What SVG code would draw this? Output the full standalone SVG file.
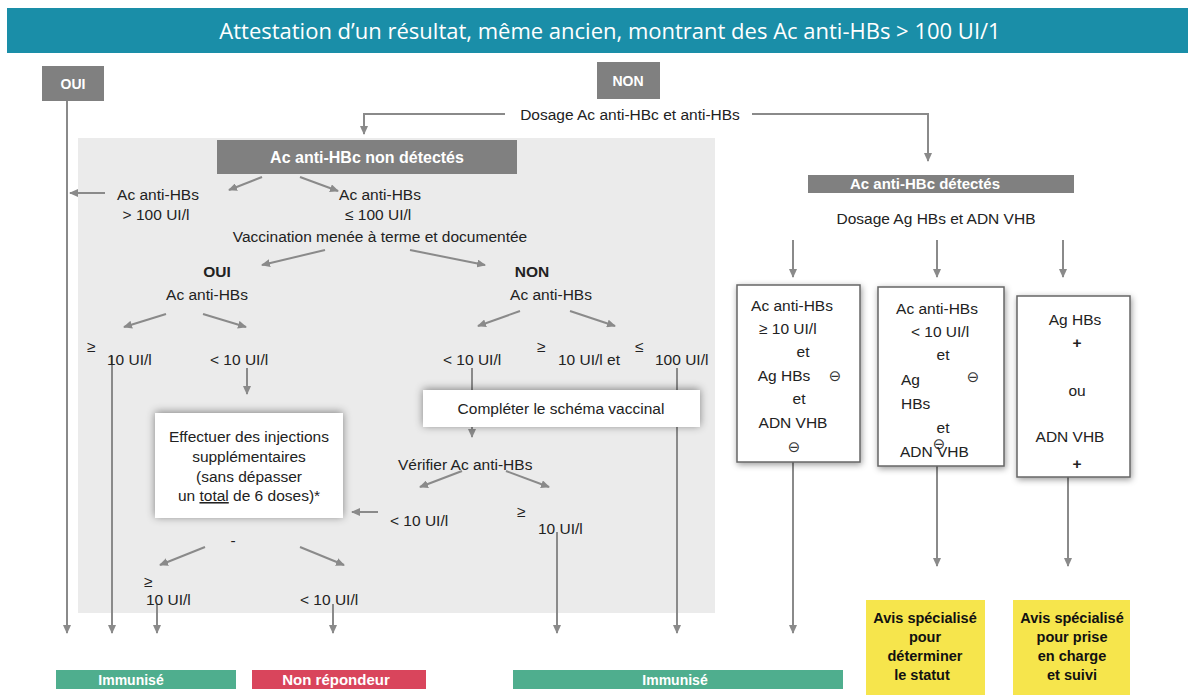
<svg xmlns="http://www.w3.org/2000/svg" width="1194" height="695" viewBox="0 0 1194 695">
<defs>
<marker id="ah" markerWidth="9" markerHeight="8" refX="8" refY="4" orient="auto" markerUnits="userSpaceOnUse">
<path d="M0,0 L9,4 L0,8 z" fill="#8a8a8a"/>
</marker>
<filter id="sh" x="-20%" y="-30%" width="140%" height="160%">
<feDropShadow dx="0" dy="-1" stdDeviation="4" flood-color="#000" flood-opacity="0.45"/>
</filter>
<filter id="sh2" x="-20%" y="-20%" width="140%" height="140%">
<feDropShadow dx="1" dy="2" stdDeviation="3" flood-color="#000" flood-opacity="0.4"/>
</filter>
</defs>
<style>
.t{font-family:"Liberation Sans",Arial,sans-serif;font-size:15.5px;fill:#222}
.c{text-anchor:middle}
.b{font-weight:bold}
.w{fill:#fff}
.s14{font-size:14px}
.s15{font-size:15px}
.s16{font-size:16px}
.yb{font-size:14.5px;fill:#111}
.gb{fill:#808080}
.ln{fill:none;stroke:#8a8a8a;stroke-width:2}
.ar{marker-end:url(#ah)}
.box{fill:#fff}
.rb{fill:#fff;stroke:#666;stroke-width:1.5}
.sym{font-family:"DejaVu Sans",sans-serif;font-size:15px;fill:#333}
</style>
<rect width="1194" height="695" fill="#fff"/>
<g id="header">
<rect x="7" y="8" width="1181" height="45" fill="#1a8ea8"/>
<text x="610" y="39" text-anchor="middle" font-family="'Open Sans','Noto Sans',sans-serif" font-size="22" font-weight="500" fill="#fff">Attestation d’un résultat, même ancien, montrant des Ac anti-HBs &gt; 100 UI/1</text>
</g>
<rect id="panel" x="78" y="138" width="637" height="475" fill="#ebebeb"/>
<g id="connectors">
<path class="ln ar" d="M67,101 V633"/>
<path class="ln ar" d="M505,114 H364 V134"/>
<path class="ln ar" d="M752,114 H928 V161"/>
<path class="ln ar" d="M262,177 L229,190"/>
<path class="ln ar" d="M300,177 L338,191"/>
<path class="ln ar" d="M105,193 H70"/>
<path class="ln ar" d="M325,250 L262,265"/>
<path class="ln ar" d="M410,250 L485,265"/>
<path class="ln ar" d="M166,314 L124,327"/>
<path class="ln ar" d="M203,314 L246,327"/>
<path class="ln ar" d="M520,311 L478,326"/>
<path class="ln ar" d="M570,311 L615,326"/>
<path class="ln ar" d="M112,356 V633"/>
<path class="ln ar" d="M247,368 V394"/>
<path class="ln" d="M472,368 V392"/>
<path class="ln ar" d="M472,427 V437"/>
<path class="ln ar" d="M677,368 V633"/>
<path class="ln ar" d="M462,471 L420,487"/>
<path class="ln ar" d="M506,471 L549,487"/>
<path class="ln ar" d="M378,512 H352"/>
<path class="ln ar" d="M557,532 V633"/>
<path class="ln ar" d="M205,547 L160,565"/>
<path class="ln ar" d="M300,547 L344,565"/>
<path class="ln ar" d="M157,604 V633"/>
<path class="ln ar" d="M333,604 V633"/>
<path class="ln ar" d="M793,240 V277"/>
<path class="ln ar" d="M937,240 V277"/>
<path class="ln ar" d="M1063,240 V277"/>
<path class="ln ar" d="M793,462 V633"/>
<path class="ln ar" d="M937,466 V566"/>
<path class="ln ar" d="M1068,477 V566"/>
</g>
<g id="oui">
<rect class="gb" x="42" y="66" width="62" height="35"/>
<text class="t c b w s14" x="73" y="89">OUI</text>
</g>
<g id="non">
<rect class="gb" x="597" y="62" width="63" height="37"/>
<text class="t c b w s14" x="628" y="86">NON</text>
</g>
<g id="dosage1"><text class="t c" x="630" y="120">Dosage Ac anti-HBc et anti-HBs</text></g>
<g id="nondetectes">
<rect class="gb" x="217" y="140" width="300" height="34"/>
<text class="t c b w s16" x="367" y="163">Ac anti-HBc non détectés</text>
</g>
<g id="sup100">
<text class="t c" x="158" y="200">Ac  anti-HBs</text>
<text class="t c" x="156" y="220">&gt; 100 UI/l</text>
</g>
<g id="inf100">
<text class="t c" x="380" y="200">Ac  anti-HBs</text>
<text class="t" x="345" y="220">≤  100 UI/l</text>
</g>
<g id="vaccination"><text class="t c" x="380" y="242">Vaccination menée à terme et documentée</text></g>
<g id="oui2">
<text class="t c b" x="217" y="277">OUI</text>
<text class="t c" x="207" y="300">Ac  anti-HBs</text>
</g>
<g id="non2">
<text class="t c b" x="532" y="277">NON</text>
<text class="t c" x="551" y="300">Ac  anti-HBs</text>
</g>
<g id="oui-sup10">
<text class="t" x="87" y="352">≥</text>
<text class="t" x="107" y="365">10 UI/l</text>
</g>
<g id="oui-inf10"><text class="t" x="210" y="365">&lt; 10 UI/l</text></g>
<g id="non-inf10"><text class="t" x="443" y="365">&lt; 10 UI/l</text></g>
<g id="non-mid">
<text class="t" x="537" y="352">≥</text>
<text class="t" x="558" y="365">10 UI/l et</text>
<text class="t" x="635" y="352">≤</text>
<text class="t" x="655" y="365">100 UI/l</text>
</g>
<g id="completer">
<rect class="box" x="423" y="390" width="277" height="37" filter="url(#sh)"/>
<text class="t c" x="561" y="414">Compléter le schéma vaccinal</text>
</g>
<g id="effectuer">
<rect class="box" x="155" y="413" width="188" height="105" filter="url(#sh)"/>
<text class="t c" x="249" y="442">Effectuer des injections</text>
<text class="t c" x="249" y="462">supplémentaires</text>
<text class="t c" x="249" y="482">(sans dépasser</text>
<text class="t c" x="249" y="501">un <tspan text-decoration="underline">total</tspan> de 6 doses)*</text>
</g>
<g id="verifier"><text class="t" x="398" y="470">Vérifier  Ac  anti-HBs</text></g>
<g id="ver-inf10"><text class="t" x="390" y="526">&lt; 10 UI/l</text></g>
<g id="ver-sup10">
<text class="t" x="517" y="517">≥</text>
<text class="t" x="538" y="534">10 UI/l</text>
</g>
<g id="dash"><text class="t c" x="233" y="546">-</text></g>
<g id="inj-sup10">
<text class="t" x="144" y="587">≥</text>
<text class="t" x="146" y="605">10 UI/l</text>
</g>
<g id="inj-inf10"><text class="t" x="300" y="605">&lt; 10 UI/l</text></g>
<g id="detectes">
<rect class="gb" x="808" y="175" width="266" height="18"/>
<text class="t c b w s15" x="925" y="189">Ac anti-HBc détectés</text>
</g>
<g id="dosage2"><text class="t c" x="936" y="224">Dosage Ag HBs et ADN VHB</text></g>
<g id="box1">
<rect class="rb" x="737" y="285" width="123" height="177" filter="url(#sh2)"/>
<text class="t c" x="792" y="311">Ac anti-HBs</text>
<text class="t" x="759" y="334">≥  10 UI/l</text>
<text class="t c" x="803" y="357">et</text>
<text class="t c" x="784" y="381">Ag HBs</text>
<text class="sym c" x="835" y="381">⊖</text>
<text class="t c" x="799" y="404">et</text>
<text class="t c" x="793" y="428">ADN VHB</text>
<text class="sym c" x="794" y="452">⊖</text>
</g>
<g id="box2">
<rect class="rb" x="878" y="287" width="126" height="179" filter="url(#sh2)"/>
<text class="t c" x="937" y="314">Ac anti-HBs</text>
<text class="t c" x="940" y="337">&lt; 10 UI/l</text>
<text class="t c" x="943" y="360">et</text>
<text class="t" x="901" y="385">Ag</text>
<text class="sym c" x="973" y="382">⊖</text>
<text class="t" x="901" y="409">HBs</text>
<text class="t c" x="943" y="433">et</text>
<text class="sym c" x="939" y="449">⊖</text>
<text class="t" x="900" y="457">ADN VHB</text>
</g>
<g id="box3">
<rect class="rb" x="1017" y="296" width="113" height="181" filter="url(#sh2)"/>
<text class="t c" x="1075" y="325">Ag HBs</text>
<text class="t c b" x="1077" y="348">+</text>
<text class="t c" x="1077" y="396">ou</text>
<text class="t c" x="1070" y="442">ADN VHB</text>
<text class="t c b" x="1077" y="469">+</text>
</g>
<g id="immunise1">
<rect x="56" y="670" width="180" height="19" fill="#4fae8e"/>
<text class="t c b w s14" x="131" y="685">Immunisé</text>
</g>
<g id="nonrepondeur">
<rect x="252" y="670" width="174" height="19" fill="#d9455c"/>
<text class="t c b w s15" x="336" y="685">Non répondeur</text>
</g>
<g id="immunise2">
<rect x="513" y="670" width="330" height="19" fill="#4fae8e"/>
<text class="t c b w s14" x="675" y="685">Immunisé</text>
</g>
<g id="avis1">
<rect x="866" y="600" width="119" height="95" fill="#f6e54c"/>
<text class="t c b yb" x="925" y="623">Avis spécialisé</text>
<text class="t c b yb" x="925" y="642">pour</text>
<text class="t c b yb" x="925" y="661">déterminer</text>
<text class="t c b yb" x="922" y="680">le statut</text>
</g>
<g id="avis2">
<rect x="1013" y="600" width="117" height="95" fill="#f6e54c"/>
<text class="t c b yb" x="1072" y="623">Avis spécialisé</text>
<text class="t c b yb" x="1072" y="642">pour prise</text>
<text class="t c b yb" x="1072" y="661">en charge</text>
<text class="t c b yb" x="1072" y="680">et suivi</text>
</g>
</svg>
